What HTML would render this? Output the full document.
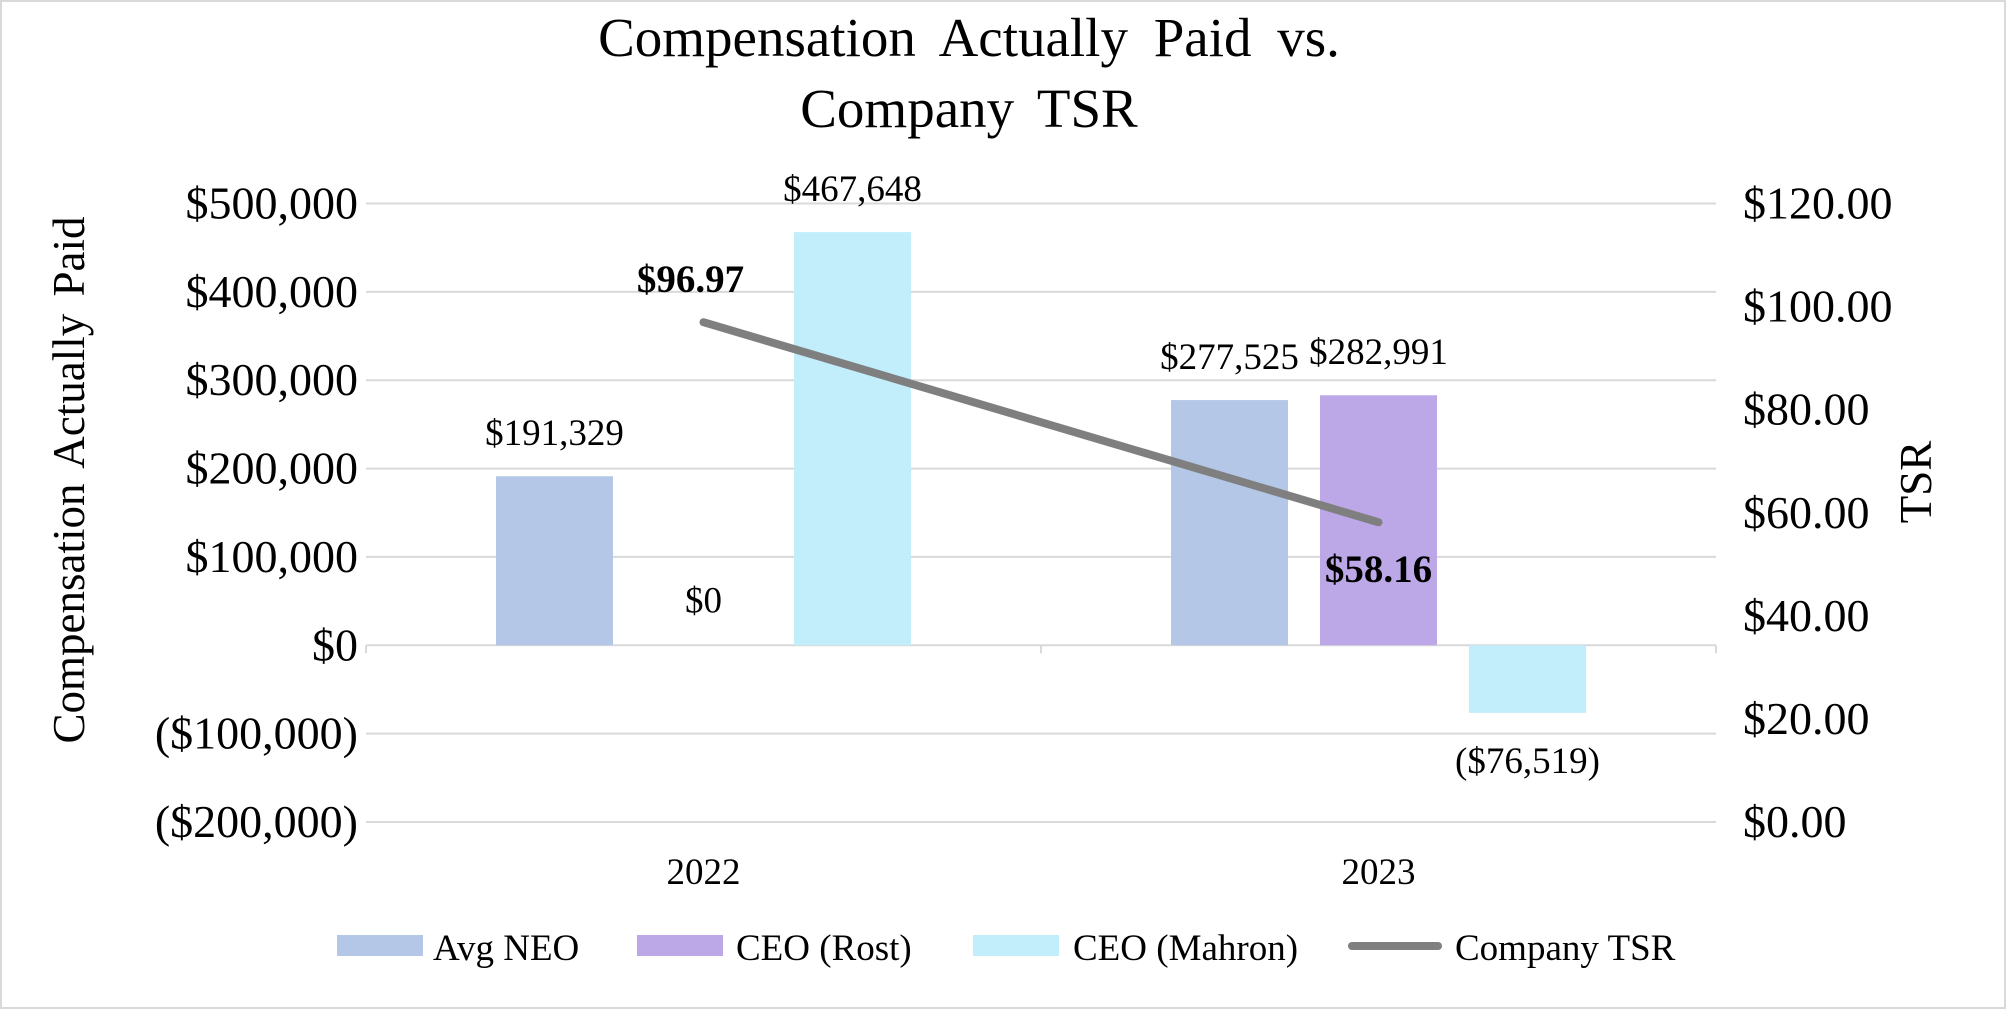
<!DOCTYPE html>
<html><head><meta charset="utf-8"><style>
html,body{margin:0;padding:0;background:#fff;}
svg{display:block;font-family:"Liberation Serif",serif;}
</style></head><body>
<svg id="chart" width="2007" height="1010" viewBox="0 0 2007 1010" xmlns="http://www.w3.org/2000/svg">
<rect x="1" y="1" width="2004" height="1007" fill="#fff" stroke="#d9d9d9" stroke-width="2"/>
<text x="969" y="56" font-size="55" text-anchor="middle" word-spacing="12">Compensation  Actually  Paid vs.</text>
<text x="969" y="127" font-size="55" text-anchor="middle" word-spacing="10">Company  TSR</text>
<text transform="translate(84,480) rotate(-90)" font-size="45" text-anchor="middle" word-spacing="6">Compensation Actually Paid</text>
<text transform="translate(1931,482) rotate(-90)" font-size="45" text-anchor="middle">TSR</text>
<g id="grid"></g><g id="bars"></g><g id="line"></g><g id="labels"></g><g id="legend"></g>
</svg>
<script>
const categories = ["2022","2023"];
const seriesNames = ["Avg NEO","CEO (Rost)","CEO (Mahron)"];
const avgNeo = [191329, 277525];
const ceoRost = [0, 282991];
const ceoMahron = [467648, -76519];
const tsr = [96.97, 58.16];
const leftTicks = [500000,400000,300000,200000,100000,0,-100000,-200000];
const leftTickLabels = ["$500,000","$400,000","$300,000","$200,000","$100,000","$0","($100,000)","($200,000)"];
const rightTicks = [120,100,80,60,40,20,0];
const rightTickLabels = ["$120.00","$100.00","$80.00","$60.00","$40.00","$20.00","$0.00"];
const barLabels = [["$191,329","$277,525"],["$0","$282,991"],["$467,648","($76,519)"]];
const tsrLabels = ["$96.97","$58.16"];

const NS="http://www.w3.org/2000/svg";
const L=366,R=1716,T=203.5,B=822;
const yL=v=>T+(500000-v)/700000*(B-T);
const yR=v=>B-v/120*(B-T);
const cw=(R-L)/categories.length;
const xC=i=>L+cw*(i+0.5);
const colors=["#b4c7e7","#bca8e6","#c2eefb"];
function mk(tag,attrs,parent,text){const e=document.createElementNS(NS,tag);for(const k in attrs)e.setAttribute(k,attrs[k]);if(text!==undefined)e.textContent=text;document.getElementById(parent).appendChild(e);return e;}
leftTicks.forEach((t,i)=>{
  const g=mk("line",{x1:L,x2:R,y1:yL(t),y2:yL(t),stroke:"#d9d9d9","stroke-width":2},"grid");
  
  
  const tx=mk("text",{x:358,y:yL(t)+15,"font-size":46,"text-anchor":"end"},"grid",leftTickLabels[i]);
  
  
});
rightTicks.forEach((t,i)=>{
  const tx=mk("text",{x:1743,y:yR(t)+15,"font-size":46},"grid",rightTickLabels[i]);
  
  
});
[L,(L+R)/2,R].forEach(x=>{const t=mk("line",{x1:x,x2:x,y1:yL(0),y2:yL(0)+8,stroke:"#d9d9d9","stroke-width":2},"grid");
  
  });
categories.forEach((c,i)=>{const t=mk("text",{x:xC(i),y:884,"font-size":37,"text-anchor":"middle"},"labels",c);
  
  });
const series=[avgNeo,ceoRost,ceoMahron];
const bw=117,off=149;
series.forEach((s,si)=>{
  s.forEach((v,i)=>{
    const cx=xC(i)+(si-1)*off;
    const y0=yL(0),y1=yL(v);
    const r=mk("rect",{x:cx-bw/2,y:Math.min(y0,y1),width:bw,height:Math.abs(y1-y0),fill:colors[si]},"bars");
    
    
    let ly;
    if(v>0) ly=y1-31; else if(v<0) ly=y1+60; else ly=y0-33;
    const t=mk("text",{x:cx,y:ly,"font-size":37,"text-anchor":"middle"},"labels",barLabels[si][i]);
    
    
  });
});
const pts=tsr.map((v,i)=>xC(i)+","+yR(v)).join(" ");
const pl=mk("polyline",{points:pts,fill:"none",stroke:"#7f7f7f","stroke-width":8,"stroke-linecap":"round"},"line");


tsr.forEach((v,i)=>{
  const dy=i===0?-30:60, dx=i===0?-13:0;
  const t=mk("text",{x:xC(i)+dx,y:yR(v)+dy,"font-size":39,"font-weight":"bold","text-anchor":"middle"},"labels",tsrLabels[i]);
  
  
});
const legX=[[337,433],[637,736],[973,1073]];
seriesNames.forEach((n,i)=>{
  const r=mk("rect",{x:legX[i][0],y:935,width:86,height:21,fill:colors[i]},"legend");
  
  
  const t=mk("text",{x:legX[i][1],y:960,"font-size":37},"legend",n);
  
  
});
const ll=mk("line",{x1:1352,x2:1438,y1:946,y2:946,stroke:"#7f7f7f","stroke-width":8,"stroke-linecap":"round"},"legend");


const lt=mk("text",{x:1455,y:960,"font-size":37},"legend","Company TSR");


</script>
</body></html>
